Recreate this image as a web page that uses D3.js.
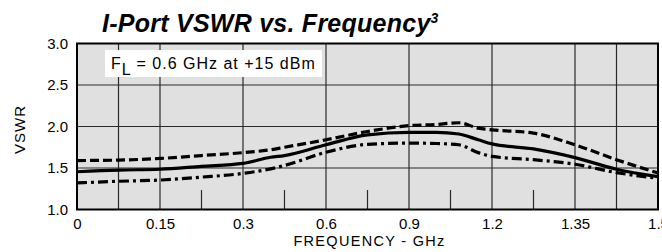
<!DOCTYPE html>
<html>
<head>
<meta charset="utf-8">
<script src="https://cdn.jsdelivr.net/npm/d3@7"></script>
<style>
  body { margin: 0; background: #fff; }
  text { font-family: "Liberation Sans", Arial, sans-serif; fill: #000; }
</style>
</head>
<body>
<svg id="chart"></svg>
<script>
// tick labels on the x axis (evenly spaced in the original, even though not linear)
var freqTicks = [0, 0.15, 0.3, 0.6, 0.9, 1.2, 1.35, 1.5]
var vswrTicks = [1.0, 1.5, 2.0, 2.5, 3.0]
var fullGrid = [0.075, 0.15, 0.3, 0.6, 0.9, 1.2, 1.35, 1.425]
var shortGrid = [0.225, 0.45, 0.75, 1.05, 1.275]

// frequency in GHz
var freq = [0, 0.075, 0.15, 0.225, 0.3, 0.4, 0.45, 0.6, 0.75, 0.9, 1.0, 1.08, 1.15, 1.2, 1.275, 1.35, 1.425, 1.5]
// VSWR series
var dashed  = [1.59, 1.595, 1.615, 1.65, 1.685, 1.72, 1.75, 1.84, 1.94, 2.01, 2.025, 2.045, 1.98, 1.96, 1.92, 1.78, 1.60, 1.44]
var solid   = [1.455, 1.475, 1.485, 1.52, 1.555, 1.63, 1.65, 1.78, 1.90, 1.93, 1.93, 1.91, 1.84, 1.79, 1.73, 1.625, 1.485, 1.395]
var dashdot = [1.32, 1.34, 1.355, 1.39, 1.435, 1.49, 1.53, 1.69, 1.785, 1.80, 1.795, 1.78, 1.685, 1.64, 1.60, 1.545, 1.445, 1.375]

var margin = {top: 43.5, right: 4, bottom: 42.5, left: 77},
    W = 662, H = 252,
    width = W - margin.left - margin.right,
    height = H - margin.top - margin.bottom

var svg = d3.select("#chart").attr("width", W).attr("height", H)

// title
var title = svg.append("text")
    .attr("x", 102)
    .attr("y", 32)
    .style("font-size", "25px")
    .style("letter-spacing", "0.25px")
    .style("font-weight", "bold")
    .style("font-style", "italic")
    .text("I-Port VSWR vs. Frequency")
title.append("tspan")
    .attr("dy", -9)
    .style("font-size", "14px")
    .text("3")

const chart = svg.append("g")
    .attr("transform", "translate(" + margin.left + "," + margin.top + ")")

const x = d3.scaleLinear()
    .domain(freqTicks)
    .range(freqTicks.map((d, i) => i * width / (freqTicks.length - 1)))

const y = d3.scaleLinear()
    .domain([1, 3])
    .range([height, 0])

// background
chart.append("rect")
    .attr("width", width)
    .attr("height", height)
    .attr("fill", "#e0e0e0")

// grid
chart.selectAll(".vgrid")
    .data(fullGrid)
    .enter()
    .append("line")
        .attr("x1", d => x(d)).attr("x2", d => x(d))
        .attr("y1", 0).attr("y2", height)
        .attr("stroke", "#2a2a2a")
        .attr("stroke-width", 1.2)

chart.selectAll(".vshort")
    .data(shortGrid)
    .enter()
    .append("line")
        .attr("x1", d => x(d)).attr("x2", d => x(d))
        .attr("y1", y(1.235)).attr("y2", height)
        .attr("stroke", "#2a2a2a")
        .attr("stroke-width", 1.2)

chart.selectAll(".hgrid")
    .data(vswrTicks.slice(1, -1))
    .enter()
    .append("line")
        .attr("x1", 0).attr("x2", width)
        .attr("y1", d => y(d)).attr("y2", d => y(d))
        .attr("stroke", "#2a2a2a")
        .attr("stroke-width", 1.2)

// legend box
chart.append("rect")
    .attr("x", 28).attr("y", 6.5)
    .attr("width", 217).attr("height", 27)
    .attr("fill", "#fff")

var note = chart.append("text")
    .attr("x", 34)
    .attr("y", 25)
    .style("font-size", "16px")
    .style("letter-spacing", "1px")
note.append("tspan").text("F")
note.append("tspan").attr("dy", 6).text("L")
note.append("tspan").attr("dy", -6).text(" = 0.6 GHz at +15 dBm")

// axes
chart.append("g")
    .attr("transform", `translate(0, ${height})`)
    .call(d3.axisBottom(x)
        .tickValues(freqTicks)
        .tickSize(0)
        .tickPadding(9)
        .tickFormat(d => String(d)))
    .call(g => g.select(".domain").remove())
    .selectAll("text")
        .style("font-size", "15px")
        .style("font-family", '"Liberation Sans", Arial, sans-serif')

chart.append("g")
    .call(d3.axisLeft(y)
        .tickValues(vswrTicks)
        .tickSize(0)
        .tickPadding(9)
        .tickFormat(d3.format(".1f")))
    .call(g => g.select(".domain").remove())
    .selectAll("text")
        .style("font-size", "15px")
        .style("font-family", '"Liberation Sans", Arial, sans-serif')

// axis titles
chart.append("text")
    .attr("x", width / 2 + 2)
    .attr("y", height + 36)
    .attr("text-anchor", "middle")
    .style("font-size", "14.5px")
    .style("letter-spacing", "1.3px")
    .text("FREQUENCY - GHz")

chart.append("text")
    .attr("transform", `translate(${-52}, ${height / 2 + 3}) rotate(-90)`)
    .attr("text-anchor", "middle")
    .style("font-size", "15px")
    .style("letter-spacing", "1px")
    .text("VSWR")

// curves
chart.append("clipPath").attr("id", "clip")
    .append("rect").attr("width", width).attr("height", height)

const line = d3.line()
    .x(d => x(d[0]))
    .y(d => y(d[1]))
    .curve(d3.curveMonotoneX)

var series = [
    {v: dashed, dash: "9,4"},
    {v: solid, dash: null},
    {v: dashdot, dash: "10,4,3,4"}
]

series.forEach(function (s) {
    chart.append("path")
        .datum(freq.map((f, i) => [f, s.v[i]]))
        .attr("clip-path", "url(#clip)")
        .attr("fill", "none")
        .attr("stroke", "#000")
        .attr("stroke-width", 3.2)
        .attr("stroke-dasharray", s.dash)
        .attr("d", line)
})

// frame
chart.append("rect")
    .attr("width", width)
    .attr("height", height)
    .attr("fill", "none")
    .attr("stroke", "#000")
    .attr("stroke-width", 2)
</script>
</body>
</html>
